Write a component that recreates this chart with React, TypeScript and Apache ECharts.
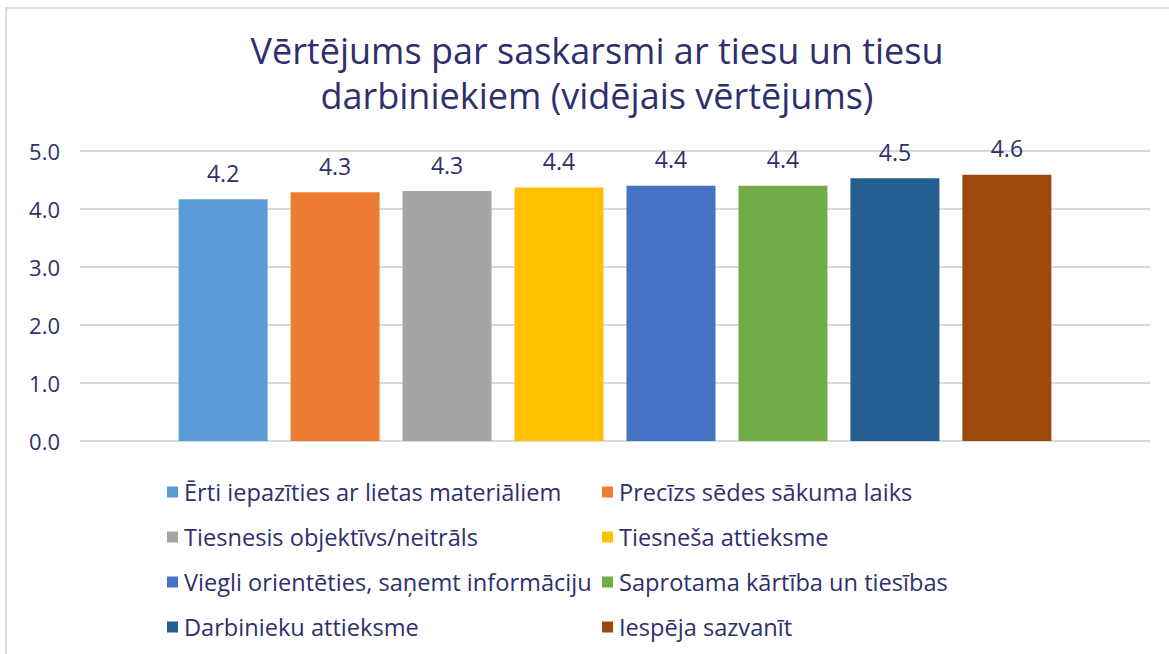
import React, { useEffect, useRef } from "react";
import * as echarts from "echarts";

const titleText = "Vērtējums par saskarsmi ar tiesu un tiesu\ndarbiniekiem (vidējais vērtējums)";
const seriesNames = [
  "Ērti iepazīties ar lietas materiāliem",
  "Precīzs sēdes sākuma laiks",
  "Tiesnesis objektīvs/neitrāls",
  "Tiesneša attieksme",
  "Viegli orientēties, saņemt informāciju",
  "Saprotama kārtība un tiesības",
  "Darbinieku attieksme",
  "Iespēja sazvanīt",
];
const seriesValues = [4.17, 4.29, 4.31, 4.37, 4.4, 4.4, 4.53, 4.59];
const seriesColors = ["#5b9bd5", "#ed7d31", "#a5a5a5", "#ffc000", "#4472c4", "#70ad47", "#255e91", "#9e480e"];
const categories = [""];

const TEXT = "#2f2f6e";
const FONT = "Open Sans";

export default function App() {
  const ref = useRef<HTMLDivElement>(null);
  useEffect(() => {
    if (!ref.current) return;
    const chart = echarts.init(ref.current, undefined, { renderer: "svg" });
    const series = seriesNames.map((name, i) => ({
      name,
      type: "bar",
      data: [seriesValues[i]],
      barWidth: 89,
      barGap: "25.8%",
      itemStyle: { color: seriesColors[i] },
      label: {
        show: true,
        position: "top",
        distance: 15,
        color: TEXT,
        fontFamily: FONT,
        fontSize: 23,
        formatter: (p: any) => Number(p.value).toFixed(1),
      },
    }));
    const legendCommon = {
      orient: "vertical",
      icon: "rect",
      itemWidth: 11,
      itemHeight: 11,
      itemGap: 21,
      textStyle: { color: TEXT, fontFamily: FONT, fontSize: 23.6, lineHeight: 24, padding: [0, 0, 0, 1] },
      padding: 0,
    };
    chart.setOption({
      animation: false,
      backgroundColor: "#ffffff",
      title: {
        text: titleText,
        left: 592,
        textAlign: "center",
        top: 23,
        textStyle: { color: TEXT, fontFamily: FONT, fontSize: 36, fontWeight: "normal", lineHeight: 45 },
      },
      graphic: [
        {
          type: "polyline",
          shape: { points: [[6, 654], [6, 8], [1169, 8]] },
          style: { stroke: "#d9d9d9", lineWidth: 2, fill: "none" },
        },
      ],
      legend: [
        { ...legendCommon, left: 167, top: 480, data: seriesNames.filter((_, i) => i % 2 === 0) },
        { ...legendCommon, left: 602, top: 480, data: seriesNames.filter((_, i) => i % 2 === 1) },
      ],
      grid: { left: 80, right: 19, top: 151, bottom: 213, containLabel: false },
      xAxis: {
        type: "category",
        data: categories,
        axisLine: { show: false },
        axisTick: { show: false },
        axisLabel: { show: false },
      },
      yAxis: {
        type: "value",
        min: 0,
        max: 5,
        interval: 1,
        axisLine: { show: false },
        axisTick: { show: false },
        axisLabel: {
          color: TEXT,
          fontFamily: FONT,
          fontSize: 22,
          margin: 20,
          formatter: (v: number) => v.toFixed(1),
        },
        splitLine: { lineStyle: { color: "#d9d9d9", width: 2 } },
      },
      series,
    });
    return () => chart.dispose();
  }, []);
  return <div ref={ref} style={{ position: "fixed", left: 0, top: 0, width: 1169, height: 654 }} />;
}
